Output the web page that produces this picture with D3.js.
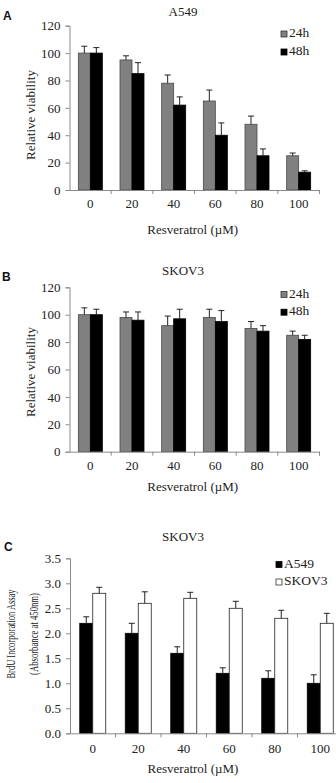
<!DOCTYPE html>
<html><head><meta charset="utf-8">
<script src="https://cdn.jsdelivr.net/npm/d3@7"></script>
<style>body{margin:0;background:#fff}svg{display:block}</style>
</head><body>
<svg id="c" width="336" height="783"></svg>
<script>
// ---- data ----
const doses = ["0","20","40","60","80","100"];
const a24 = [100,95,78,65,48,25];
const a24Err = [5,3,6,8,6,2];
const a48 = [100,85,62,40,25,13];
const a48Err = [4,8,6,9,5,1];
const b24 = [100,98,92,98,90,85];
const b24Err = [5,4,7,6,5,3];
const b48 = [100,96,97,95,88,82];
const b48Err = [4,6,7,8,4,3];
const cA549 = [2.2,2.0,1.6,1.2,1.1,1.0];
const cA549Err = [0.13,0.2,0.13,0.11,0.15,0.17];
const cSKOV3 = [2.8,2.6,2.7,2.5,2.3,2.2];
const cSKOV3Err = [0.12,0.23,0.12,0.14,0.16,0.2];
const viabTicks = [0,20,40,60,80,100,120];
const brduTicks = [0,0.5,1,1.5,2,2.5,3,3.5];

const svg = d3.select("#c");
const serif = "'Liberation Serif','Times New Roman',serif";
const sans = "'Liberation Sans',Arial,sans-serif";

function panel(o){
  const g = svg.append("g");
  const x = d3.scaleBand().domain(doses).range(o.xr);
  const y = d3.scaleLinear().domain(o.yd).range(o.yr);
  const sub = d3.scaleBand().domain([0,1]).range([-o.bw, o.bw]);
  // bars
  o.series.forEach((s, si) => {
    doses.forEach((d, i) => {
      const cx = x(d) + x.bandwidth()/2;
      const x0 = cx + sub(si);
      const w = sub.bandwidth();
      g.append("rect").attr("x", x0).attr("y", y(s.v[i]))
        .attr("width", w).attr("height", y(0) - y(s.v[i]))
        .attr("fill", s.fill).attr("stroke", s.stroke).attr("stroke-width", 0.8);
      const ex = x0 + w/2, top = y(s.v[i] + s.e[i]);
      g.append("line").attr("x1", ex).attr("x2", ex).attr("y1", y(s.v[i])).attr("y2", top)
        .attr("stroke", "#222").attr("stroke-width", 1);
      g.append("line").attr("x1", ex - 3).attr("x2", ex + 3).attr("y1", top).attr("y2", top)
        .attr("stroke", "#222").attr("stroke-width", 1);
    });
  });
  // y axis
  const ya = g.append("g").attr("transform", `translate(${o.xr[0]},0)`)
    .call(d3.axisLeft(y).tickValues(o.yt).tickSize(4).tickPadding(5).tickFormat(o.fmt));
  ya.select(".domain").attr("stroke", "#8a8a8a");
  ya.selectAll(".tick line").attr("stroke", "#8a8a8a");
  ya.selectAll("text").attr("font-family", serif).attr("font-size", 13).attr("fill", "#222");
  // x axis
  const xa = g.append("g").attr("transform", `translate(0,${y(0)})`)
    .call(d3.axisBottom(x).tickSize(0).tickPadding(o.xpad));
  xa.select(".domain").attr("stroke", "#8a8a8a");
  xa.selectAll("text").attr("font-family", serif).attr("font-size", 13).attr("fill", "#222");
  doses.forEach((d, i) => {
    const bx = x(d) + x.step();
    g.append("line").attr("x1", bx).attr("x2", bx).attr("y1", y(0)).attr("y2", y(0) + 4)
      .attr("stroke", "#8a8a8a");
  });
  // titles
  g.append("text").attr("x", 183).attr("y", o.titleY).attr("text-anchor", "middle")
    .attr("font-family", serif).attr("font-size", 13).attr("fill", "#222").text(o.title);
  g.append("text").attr("x", o.letterX).attr("y", o.letterY)
    .attr("font-family", sans).attr("font-weight", "bold").attr("font-size", 12).attr("fill", "#111").text(o.letter);
  g.append("text").attr("x", (o.xr[0] + 320)/2 - 2).attr("y", o.xtitleY).attr("text-anchor", "middle")
    .attr("font-family", serif).attr("font-size", 13).attr("fill", "#222").text("Resveratrol (\u00b5M)");
  o.ytitle.forEach(t => {
    const tx = g.append("text").attr("transform", `translate(${t.x},${t.y}) rotate(-90)`)
      .attr("text-anchor", "middle").attr("dominant-baseline", "central")
      .attr("font-family", serif).attr("font-size", t.size).attr("fill", "#222").text(t.text);
    if (t.len) tx.attr("textLength", t.len).attr("lengthAdjust", "spacingAndGlyphs");
  });
  // legend
  o.series.forEach((s, si) => {
    const ly = o.legY + si * o.legGap;
    g.append("rect").attr("x", o.legX).attr("y", ly - 6).attr("width", 6).attr("height", 6)
      .attr("fill", s.fill).attr("stroke", s.legStroke).attr("stroke-width", 0.8);
    g.append("text").attr("x", o.legX + 8).attr("y", ly).attr("font-family", serif)
      .attr("font-size", 13.5).attr("fill", "#222").text(s.name);
  });
}

panel({
  xr: [69.5, 319.5], yd: [0,120], yr: [190, 25.7], yt: viabTicks, fmt: d3.format("d"), bw: 12, xpad: 9,
  series: [
    {name: "24h", v: a24, e: a24Err, fill: "#808080", stroke: "#4a4a4a", legStroke: "#333"},
    {name: "48h", v: a48, e: a48Err, fill: "#000", stroke: "#000", legStroke: "#000"}
  ],
  title: "A549", titleY: 16, letter: "A", letterX: 3, letterY: 20, xtitleY: 234,
  ytitle: [{text: "Relative viability", x: 30, y: 115, size: 13}],
  legX: 281, legY: 37, legGap: 18
});

panel({
  xr: [69.5, 319.5], yd: [0,120], yr: [451.7, 287.3], yt: viabTicks, fmt: d3.format("d"), bw: 12, xpad: 9,
  series: [
    {name: "24h", v: b24, e: b24Err, fill: "#808080", stroke: "#4a4a4a", legStroke: "#333"},
    {name: "48h", v: b48, e: b48Err, fill: "#000", stroke: "#000", legStroke: "#000"}
  ],
  title: "SKOV3", titleY: 275, letter: "B", letterX: 2, letterY: 281, xtitleY: 491,
  ytitle: [{text: "Relative viability", x: 30, y: 372, size: 13}],
  legX: 281, legY: 297.5, legGap: 17.7
});

panel({
  xr: [70, 343], yd: [0,3.5], yr: [733.3, 558.3], yt: brduTicks, fmt: d3.format(".1f"), bw: 13, xpad: 10,
  series: [
    {name: "A549", v: cA549, e: cA549Err, fill: "#000", stroke: "#000", legStroke: "#000"},
    {name: "SKOV3", v: cSKOV3, e: cSKOV3Err, fill: "#fff", stroke: "#222", legStroke: "#333"}
  ],
  title: "SKOV3", titleY: 541, letter: "C", letterX: 4, letterY: 551, xtitleY: 773,
  ytitle: [{text: "BrdU Incorporation Assay", x: 10.5, y: 634, size: 12.5, len: 89},
           {text: "(Absorbance at 450nm)", x: 33.5, y: 634, size: 12.5, len: 82}],
  legX: 276, legY: 567.5, legGap: 17.5
});
</script>
</body></html>
